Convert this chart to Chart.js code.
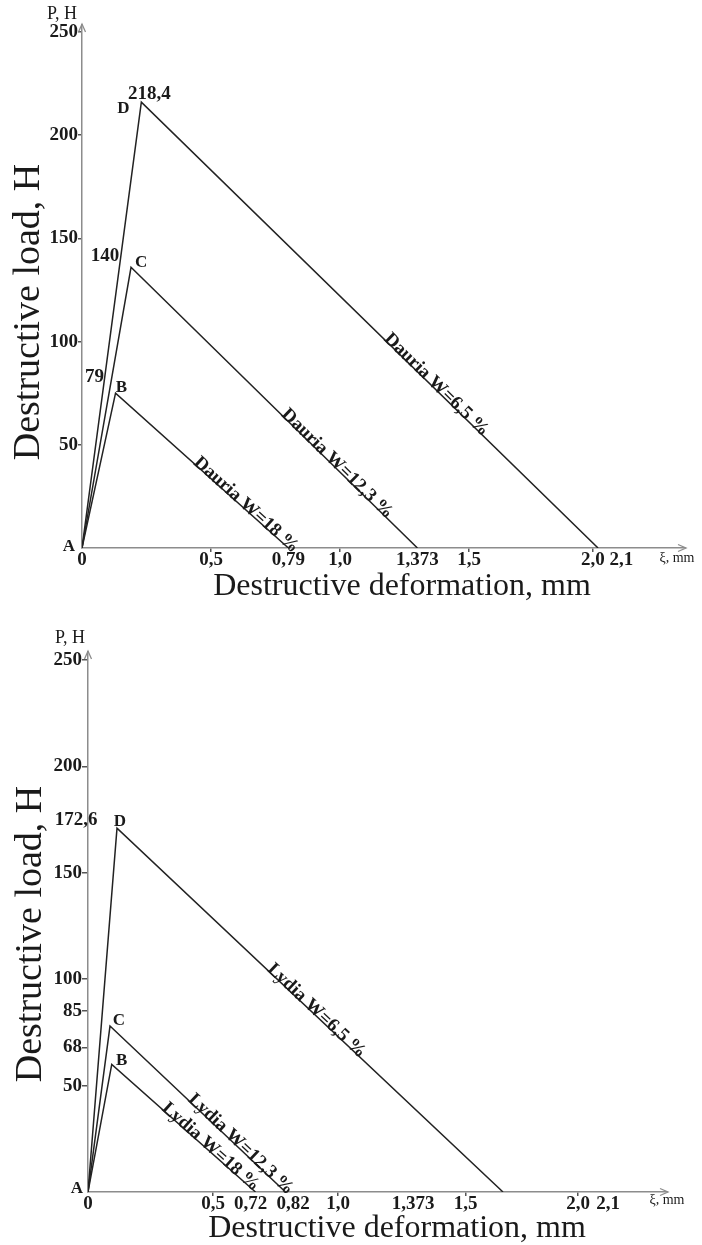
<!DOCTYPE html>
<html>
<head>
<meta charset="utf-8">
<script src="https://cdn.jsdelivr.net/npm/chart.js@4.4.1/dist/chart.umd.min.js"></script>
<style>
  html, body { margin: 0; padding: 0; background: #fff; }
  canvas { display: block; }
</style>
</head>
<body>
<canvas id="top" width="702" height="622"></canvas>
<canvas id="bot" width="702" height="623"></canvas>
<script>
// ---------- DATA: top chart (Dauria) ----------
const topNames        = ['Dauria W=18 %', 'Dauria W=12,3 %', 'Dauria W=6,5 %'];
const topPeakX        = [0.13, 0.19, 0.23];
const topPeakY        = [75, 136, 216];
const topEndX         = [0.80, 1.30, 2.00];
const topPeakLetters  = ['B', 'C', 'D'];
const topPeakValues   = ['79', '140', '218,4'];
const topXTicks       = [0, 0.5, 0.8, 1.0, 1.3, 1.5, 1.98, 2.09];
const topXTickLabels  = ['0', '0,5', '0,79', '1,0', '1,373', '1,5', '2,0', '2,1'];
const topXMarks       = [0.5, 1.0, 1.5, 1.98];
const topYTicks       = [50, 100, 150, 200, 250];
const topYTickLabels  = ['50', '100', '150', '200', '250'];

// ---------- DATA: bottom chart (Lydia) ----------
const botNames        = ['Lydia W=18 %', 'Lydia W=12,3 %', 'Lydia W=6,5 %'];
const botPeakX        = [0.095, 0.088, 0.116];
const botPeakY        = [60, 78, 171];
const botEndX         = [0.67, 0.79, 1.66];
const botPeakLetters  = ['B', 'C', 'D'];
const botPeakValues   = ['', '', '172,6'];
const botXTicks       = [0, 0.5, 0.65, 0.82, 1.0, 1.3, 1.51, 1.96, 2.08];
const botXTickLabels  = ['0', '0,5', '0,72', '0,82', '1,0', '1,373', '1,5', '2,0', '2,1'];
const botXMarks       = [0.5, 1.0, 1.51, 1.96];
const botYTicks       = [50, 68, 85, 100, 150, 200, 250];
const botYTickLabels  = ['50', '68', '85', '100', '150', '200', '250'];

const yTitle = 'Destructive load, H';
const xTitle = 'Destructive deformation, mm';
const yUnit  = 'P, H';
const xUnit  = 'ξ, mm';
const origin = 'A';

const SERIF = '"Liberation Serif", "Times New Roman", serif';
const AXIS_COLOR = '#8c8c8c';
const LINE_COLOR = '#222';
const TEXT_COLOR = '#1a1a1a';

function makeChart(id, d, L) {
  const datasets = d.peakX.map((px, i) => ({
    label: d.names[i],
    data: [{x: 0, y: 0}, {x: px, y: d.peakY[i]}, {x: d.endX[i], y: 0}],
    borderColor: LINE_COLOR,
    borderWidth: 1.5,
    pointRadius: 0,
    fill: false,
    tension: 0
  }));
  const tickFont = {family: SERIF, size: 19, weight: 'bold'};

  const annot = {
    id: 'annot_' + id,
    afterDraw(chart) {
      const {ctx, chartArea: a, scales: {x, y}} = chart;
      const ox = x.getPixelForValue(0), oy = y.getPixelForValue(0);
      ctx.save();
      // arrowheads
      ctx.strokeStyle = AXIS_COLOR;
      ctx.lineWidth = 1.3;
      ctx.beginPath();
      ctx.moveTo(ox - 3.5, a.top + 7); ctx.lineTo(ox, a.top - 1); ctx.lineTo(ox + 3.5, a.top + 7);
      ctx.moveTo(a.right - 7, oy - 3.5); ctx.lineTo(a.right + 1, oy); ctx.lineTo(a.right - 7, oy + 3.5);
      ctx.stroke();

      ctx.fillStyle = TEXT_COLOR;
      function txt(s, px, py, font, align) {
        ctx.font = font;
        ctx.textAlign = align || 'center';
        ctx.textBaseline = 'middle';
        ctx.fillText(s, px, py);
      }
      // unit labels and origin
      txt(yUnit, ox + L.pOff[0], a.top + L.pOff[1], '18px ' + SERIF);
      txt(xUnit, a.right + L.xiOff[0], oy + L.xiOff[1], '14px ' + SERIF);
      txt(origin, ox + L.aOff[0], oy + L.aOff[1], 'bold 17px ' + SERIF);

      // axis titles
      txt(xTitle, L.xTitlePos[0], L.xTitlePos[1], '32px ' + SERIF);
      ctx.save();
      ctx.translate(L.yTitlePos[0], L.yTitlePos[1]);
      ctx.rotate(-Math.PI / 2);
      txt(yTitle, 0, 0, '38px ' + SERIF);
      ctx.restore();

      // peaks
      d.peakX.forEach((px, i) => {
        const p = {x: x.getPixelForValue(px), y: y.getPixelForValue(d.peakY[i])};
        const e = {x: x.getPixelForValue(d.endX[i]), y: y.getPixelForValue(0)};
        txt(d.letters[i], p.x + L.letterOff[i][0], p.y + L.letterOff[i][1], 'bold 17px ' + SERIF);
        if (d.values[i]) txt(d.values[i], p.x + L.valueOff[i][0], p.y + L.valueOff[i][1], 'bold 19px ' + SERIF);
        // rotated series label along the falling branch
        const ang = Math.atan2(e.y - p.y, e.x - p.x);
        const t = L.labelT[i];
        ctx.save();
        ctx.translate(p.x + t * (e.x - p.x), p.y + t * (e.y - p.y));
        ctx.rotate(ang);
        ctx.font = 'bold 19px ' + SERIF;
        ctx.textAlign = 'center';
        ctx.textBaseline = 'alphabetic';
        ctx.fillText(d.names[i], 0, 1);
        ctx.restore();
      });
      ctx.restore();
    }
  };

  return new Chart(document.getElementById(id), {
    type: 'line',
    data: {datasets},
    options: {
      responsive: false,
      animation: false,
      events: [],
      layout: {padding: {top: L.top, right: L.right, left: 0, bottom: 0}},
      plugins: {legend: {display: false}, tooltip: {enabled: false}},
      scales: {
        x: {
          type: 'linear', min: 0, max: L.xMax,
          afterBuildTicks: s => { s.ticks = d.xTicks.map(v => ({value: v})); },
          afterFit: s => { s.height = L.xH; },
          ticks: {autoSkip: false, maxRotation: 0, minRotation: 0, padding: -3, color: TEXT_COLOR, font: tickFont,
                  callback: (v, i) => d.xTickLabels[i]},
          grid: {drawOnChartArea: false, drawTicks: true, tickLength: 4, lineWidth: 1.5,
                 color: c => (c.tick && d.xMarks.includes(c.tick.value)) ? '#555' : 'rgba(0,0,0,0)'},
          border: {display: true, color: AXIS_COLOR, width: 1.5}
        },
        y: {
          type: 'linear', min: 0, max: L.yMax,
          afterBuildTicks: s => { s.ticks = d.yTicks.map(v => ({value: v})); },
          afterFit: s => { s.width = L.yW; },
          ticks: {autoSkip: false, padding: 0, color: TEXT_COLOR, font: tickFont,
                  callback: (v, i) => d.yTickLabels[i]},
          grid: {drawOnChartArea: false, drawTicks: true, tickLength: L.yTick, lineWidth: 1.5, color: '#555'},
          border: {display: true, color: AXIS_COLOR, width: 1.5}
        }
      }
    },
    plugins: [annot]
  });
}

makeChart('top', {
  names: topNames, peakX: topPeakX, peakY: topPeakY, endX: topEndX,
  letters: topPeakLetters, values: topPeakValues,
  xTicks: topXTicks, xTickLabels: topXTickLabels, xMarks: topXMarks,
  yTicks: topYTicks, yTickLabels: topYTickLabels
}, {
  top: 25, right: 17, xH: 74, yW: 82, yTick: 4, xMax: 2.337, yMax: 253.4,
  pOff: [-20, -11], xiOff: [-8, 10], aOff: [-13, -1],
  xTitlePos: [402, 587], yTitlePos: [29, 312],
  letterOff: [[6, -6], [10, -5], [-18, 6]],
  valueOff: [[-21, -16], [-26, -11], [8, -8]],
  labelT: [0.74, 0.71, 0.64]
});

makeChart('bot', {
  names: botNames, peakX: botPeakX, peakY: botPeakY, endX: botEndX,
  letters: botPeakLetters, values: botPeakValues,
  xTicks: botXTicks, xTickLabels: botXTickLabels, xMarks: botXMarks,
  yTicks: botYTicks, yTickLabels: botYTickLabels
}, {
  top: 30, right: 35, xH: 53, yW: 88, yTick: 6, xMax: 2.316, yMax: 253.8,
  pOff: [-18, -14], xiOff: [0, 8], aOff: [-11, -3],
  xTitlePos: [397, 607], yTitlePos: [31, 312],
  letterOff: [[10, -4], [9, -5], [3, -7]],
  valueOff: [[0, 0], [0, 0], [-41, -8]],
  labelT: [0.67, 0.73, 0.51]
});
</script>
</body>
</html>
